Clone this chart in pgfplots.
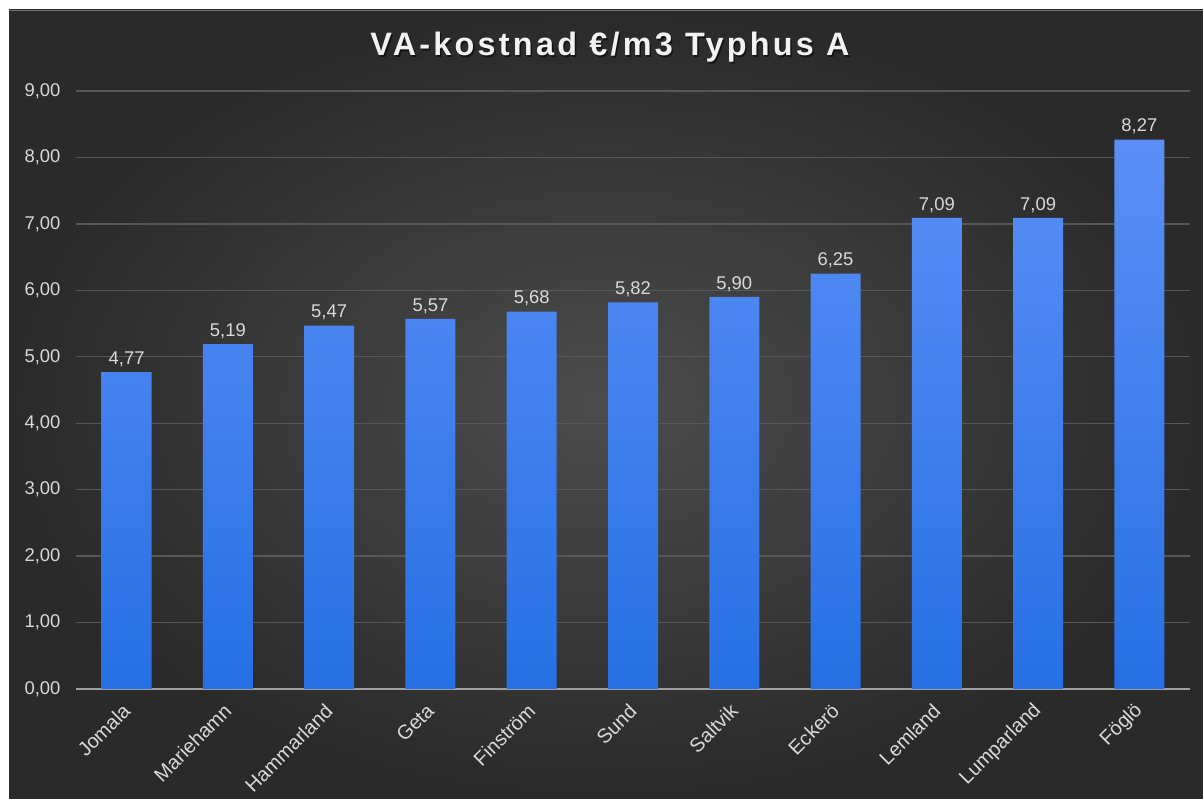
\documentclass[border=0pt]{standalone}
\usepackage{pgfplots}
\pgfplotsset{compat=1.18}
\usepackage{fontspec}
\setmainfont{Liberation Sans}
\newfontfamily\titlefont[LetterSpace=10]{Liberation Sans}
\definecolor{bgin}{HTML}{4C4C4C}
\definecolor{bgout}{HTML}{2A2A2A}
\definecolor{bartop}{HTML}{5B8FF7}
\definecolor{barbot}{HTML}{2670E4}
\definecolor{gridc}{HTML}{575757}
\definecolor{txt}{HTML}{D9D9D9}
\definecolor{axisc}{HTML}{A0A0A0}
\begin{document}
\begin{tikzpicture}
\path[use as bounding box] (0bp,0bp) rectangle (1203bp,799bp);
\fill[white] (0bp,0bp) rectangle (1203bp,799bp);
\shade[inner color=bgin, outer color=bgout] (9bp,0bp) rectangle (1203bp,789bp);
\draw[color=black!55, line width=1bp] (9bp,788.5bp) -- (1203bp,788.5bp);
\node[anchor=base, text=black, opacity=0.55, font=\titlefont\bfseries\fontsize{32.5}{33}\selectfont] at (611.5bp,741.5bp) {VA-kostnad €/m3 Typhus A};
\node[anchor=base, text=white!95!black, font=\titlefont\bfseries\fontsize{32.5}{33}\selectfont] at (610bp,743bp) {VA-kostnad €/m3 Typhus A};
\begin{axis}[
  at={(76bp,110bp)}, anchor=south west,
  width=1114bp, height=598bp, scale only axis,
  ybar, bar width=50bp,
  xmin=-0.5, xmax=10.5, ymin=0, ymax=9,
  xtick={0,...,10},
  xticklabels={Jomala,Mariehamn,Hammarland,Geta,Finström,Sund,Saltvik,Eckerö,Lemland,Lumparland,Föglö},
  ytick={0,...,9},
  axis x line*=bottom, axis y line*=left,
  y axis line style={draw=none},
  x axis line style={draw=axisc, line width=1.5bp, -},
  major tick length=0pt,
  ymajorgrids, grid style={draw=gridc, line width=1.3bp},
  /pgf/number format/assume math mode=true,
  yticklabel={\pgfmathprintnumber[fixed,fixed zerofill,precision=2,use comma]{\tick}},
  ticklabel style={text=txt, font=\fontsize{18.5}{20}\selectfont},
  yticklabel style={xshift=-12bp},
  xticklabel style={rotate=45, anchor=east, inner sep=0pt, font=\fontsize{20}{20}\selectfont, yshift=-13bp, xshift=-13bp},
  nodes near coords={\pgfmathprintnumber[fixed,fixed zerofill,precision=2,use comma]{\pgfplotspointmeta}},
  every node near coord/.append style={text=txt, font=\fontsize{18.5}{20}\selectfont, yshift=2bp},
  clip=false,
]
\addplot[draw=none, top color=bartop, bottom color=barbot] coordinates {
(0,4.77) (1,5.19) (2,5.47) (3,5.57) (4,5.68) (5,5.82) (6,5.90) (7,6.25) (8,7.09) (9,7.09) (10,8.27)};
\end{axis}
\end{tikzpicture}
\end{document}
